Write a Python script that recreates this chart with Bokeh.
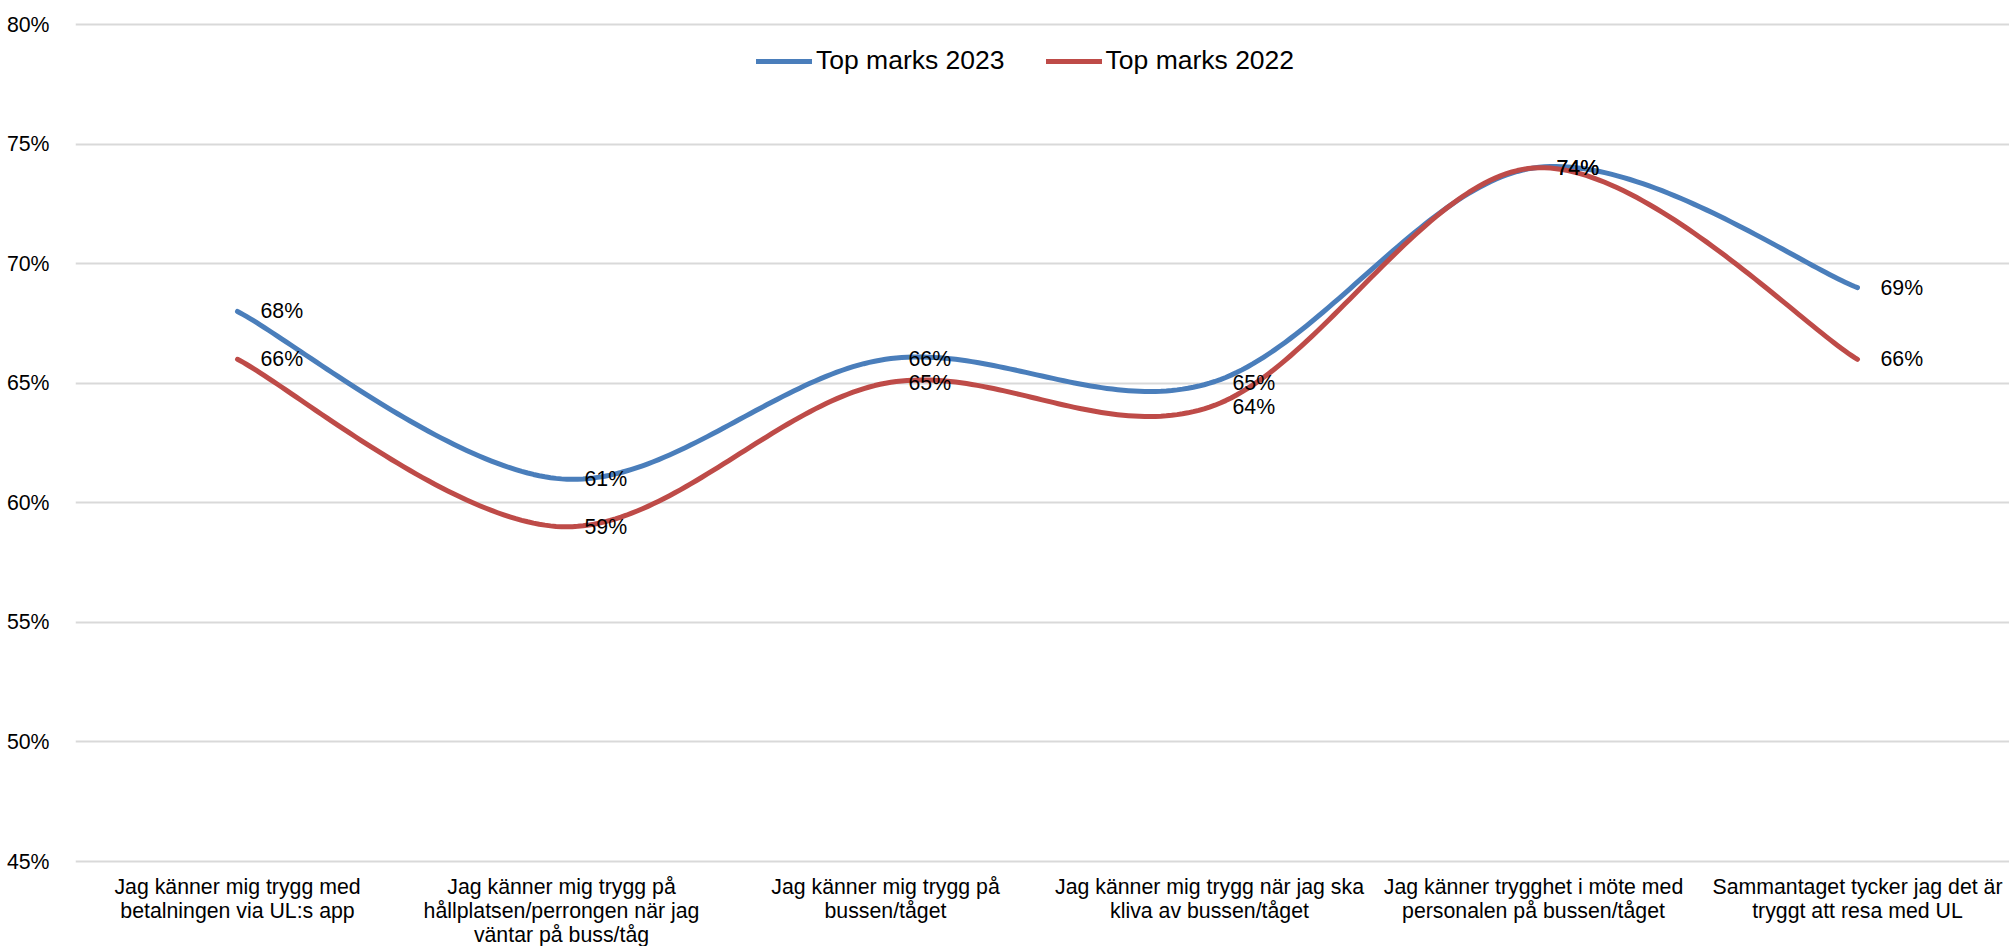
import numpy as np
from bokeh.plotting import figure
from bokeh.models import (Range1d, FixedTicker, PrintfTickFormatter, Legend,
                          LegendItem, ColumnDataSource, LabelSet)
from bokeh.core.properties import value
from bokeh.embed import file_html
from bokeh.resources import INLINE

# ---------------- data ----------------
categories = [
    "Jag känner mig trygg med\nbetalningen via UL:s app",
    "Jag känner mig trygg på\nhållplatsen/perrongen när jag\nväntar på buss/tåg",
    "Jag känner mig trygg på\nbussen/tåget",
    "Jag känner mig trygg när jag ska\nkliva av bussen/tåget",
    "Jag känner trygghet i möte med\npersonalen på bussen/tåget",
    "Sammantaget tycker jag det är\ntryggt att resa med UL",
]
top_marks_2023 = [68, 61, 66, 65, 74, 69]
top_marks_2022 = [66, 59, 65, 64, 74, 66]
series_names = ["Top marks 2023", "Top marks 2022"]
series_colors = ["#4A7EBB", "#BE4B48"]
y_ticks = [45, 50, 55, 60, 65, 70, 75, 80]

FONT = "Liberation Sans"
SMALL = "21.3px"

# ---------------- layout (pixels) ----------------
W, H = 2009, 946
LEFT = 75            # left edge of plotting area
Y_TOP_PX = 24        # pixel row of the top gridline
Y_BOT_PX = 861       # pixel row of the bottom gridline
CAT_PX = 324         # width of one category slot
CAT_GAP = 13         # gap between bottom gridline and first label line
CAT_LINE = 24        # line spacing of category labels

y_lo, y_hi = y_ticks[0], y_ticks[-1]
px_per_unit = (Y_BOT_PX - Y_TOP_PX) / (y_hi - y_lo)
y_start = y_lo - (H - Y_BOT_PX) / px_per_unit   # room below for category labels
y_end = y_hi + Y_TOP_PX / px_per_unit
x_start = -0.5
x_end = x_start + (W - LEFT) / CAT_PX


def smooth(ys, n=60):
    """Excel-like smoothed line: Catmull-Rom converted to cubic Bezier."""
    xs = np.arange(len(ys), dtype=float)
    pts = np.column_stack([xs, np.asarray(ys, dtype=float)])
    last = len(pts) - 1
    out = []
    for i in range(last):
        p0 = pts[max(i - 1, 0)]
        p1 = pts[i]
        p2 = pts[i + 1]
        p3 = pts[min(i + 2, last)]
        c1 = p1 + (p2 - p0) / 6.0
        c2 = p2 - (p3 - p1) / 6.0
        t = np.linspace(0, 1, n, endpoint=(i == last - 1))[:, None]
        seg = ((1 - t) ** 3) * p1 + 3 * ((1 - t) ** 2) * t * c1 \
            + 3 * (1 - t) * (t ** 2) * c2 + (t ** 3) * p2
        out.append(seg)
    arr = np.vstack(out)
    return arr[:, 0], arr[:, 1]


p = figure(width=W, height=H,
           x_range=Range1d(x_start, x_end), y_range=Range1d(y_start, y_end),
           output_backend="svg", toolbar_location=None,
           min_border_left=LEFT, min_border_right=0,
           min_border_top=0, min_border_bottom=0)
p.outline_line_color = None
p.background_fill_color = "white"
p.border_fill_color = "white"

# grid
p.xgrid.grid_line_color = None
p.ygrid.ticker = FixedTicker(ticks=y_ticks)
p.ygrid.grid_line_color = "#D9D9D9"
p.ygrid.grid_line_width = 2

# y axis
p.yaxis.ticker = FixedTicker(ticks=y_ticks)
p.yaxis.formatter = PrintfTickFormatter(format="%d%%")
p.yaxis.axis_line_color = None
p.yaxis.major_tick_line_color = None
p.yaxis.minor_tick_line_color = None
p.yaxis.major_label_standoff = 20
p.yaxis.major_label_text_font = FONT
p.yaxis.major_label_text_font_size = SMALL
p.yaxis.major_label_text_color = "#000000"

# category labels: each wrapped line centred under its category
p.xaxis.visible = False
cx, cy, ct, coff = [], [], [], []
for i, cat in enumerate(categories):
    for k, line in enumerate(cat.split("\n")):
        cx.append(i)
        cy.append(y_lo)
        ct.append(line)
        coff.append(-(CAT_GAP + k * CAT_LINE))
cat_src = ColumnDataSource(dict(x=cx, y=cy, t=ct, off=coff))
p.add_layout(LabelSet(x="x", y="y", text="t", source=cat_src,
                      y_offset="off", text_align="center",
                      text_baseline="top",
                      text_font=value(FONT), text_font_size=value(SMALL),
                      text_color="#000000"))

renderers = []
for vals, color in zip([top_marks_2023, top_marks_2022], series_colors):
    sx, sy = smooth(vals)
    r = p.line(sx, sy, line_color=color, line_width=5,
               line_cap="round", line_join="round")
    renderers.append(r)

for vals in [top_marks_2023, top_marks_2022]:
    src = ColumnDataSource(dict(x=list(range(len(vals))), y=vals,
                                t=[f"{v}%" for v in vals]))
    p.add_layout(LabelSet(x="x", y="y", text="t", source=src,
                          x_offset=23, text_baseline="middle",
                          text_align="left", text_font=value(FONT),
                          text_font_size=value(SMALL),
                          text_color="#000000"))

legend = Legend(items=[LegendItem(label=n, renderers=[r])
                       for n, r in zip(series_names, renderers)],
                orientation="horizontal", location=(681, H - 76),
                border_line_color=None, background_fill_alpha=0,
                padding=0, margin=0, spacing=41, label_standoff=4,
                glyph_width=56, glyph_height=20,
                label_text_font=FONT, label_text_font_size="26.5px",
                label_text_color="#000000")
p.add_layout(legend)

open("out.html", "w").write(file_html(p, INLINE))
